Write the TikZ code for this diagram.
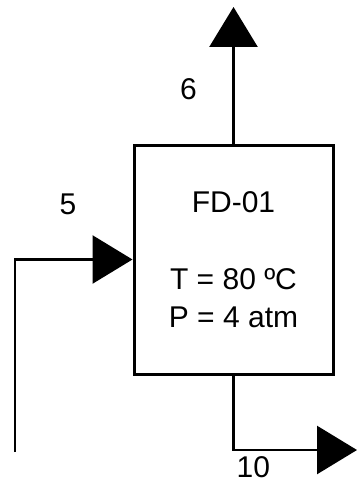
\documentclass[tikz,border=0pt]{standalone}
\usepackage{fontspec}
\setmainfont{Liberation Sans}
\usetikzlibrary{arrows.meta,positioning}

\begin{document}
\begin{tikzpicture}[x=1pt, y=1pt,
  unit/.style={draw, line width=3pt, minimum width=199pt, minimum height=229pt,
               align=center, inner sep=0pt, font=\fontsize{30}{38.5}\selectfont},
  arr/.style={-{Triangle[length=40pt, width=48pt]}, line width=2.6pt},
  lab/.style={font=\fontsize{30}{34}\selectfont, inner sep=0pt}]
\useasboundingbox (0,0) rectangle (358,-484);
\node[unit] (fd) at (233.5,-259.5) {FD-01\\[38.5pt]T = 80 ºC\\P = 4 atm};
\coordinate (s6) at (233.5,-7);
\coordinate (s5) at (15,-452);
\coordinate (s10) at (357,-450);
\draw[arr] (fd.north) -- (s6) node[lab, pos=0.4, xshift=-45pt]{6};
\draw[arr] (s5) |- (fd.west) node[lab, pos=0.725, yshift=55pt]{5};
\draw[arr] (fd.south) |- (s10) node[lab, pos=0.58, yshift=-17pt]{10};
\end{tikzpicture}
\end{document}
